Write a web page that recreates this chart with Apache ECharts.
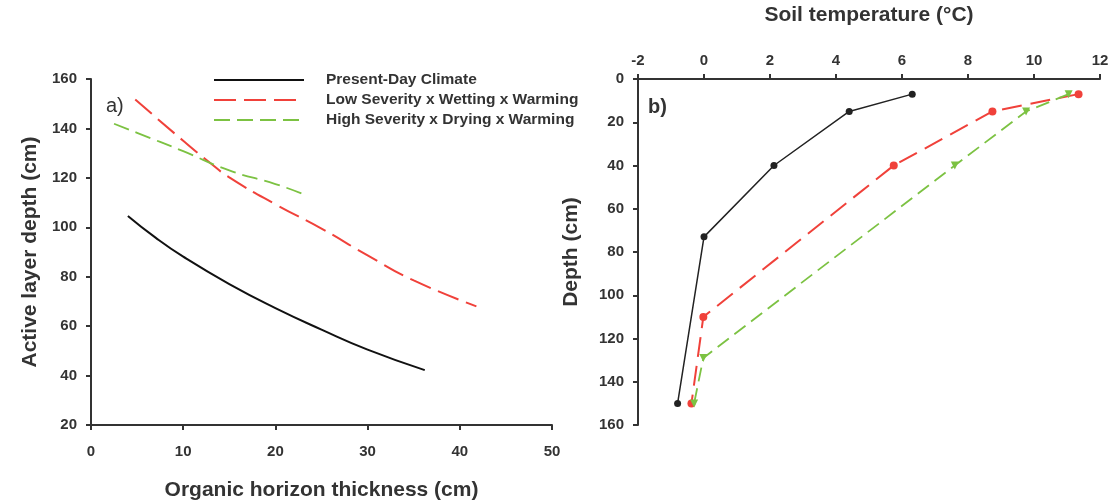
<!DOCTYPE html>
<html><head><meta charset="utf-8">
<script src="https://cdn.jsdelivr.net/npm/echarts@6/dist/echarts.min.js"></script>
<style>html,body{margin:0;padding:0;background:#fff}#c{width:1112px;height:501px}</style>
</head><body><div id="c"></div>
<script>
// Panel a) Active layer depth vs organic horizon thickness
const presentX = [4, 7, 10, 15, 20, 25, 30, 36.2];
const presentY = [104.6, 95.8, 88.1, 77, 67.3, 58.6, 50.5, 42.2];
const lowX = [4.8, 10, 12.8, 15, 20, 25, 30, 35, 41.8];
const lowY = [151.7, 135, 126.4, 120.2, 109.3, 99.5, 88.6, 78.5, 68];
const highX = [2.5, 5, 10, 15, 20, 22.9];
const highY = [141.9, 138.2, 130.8, 123, 117.5, 113.6];
// Panel b) Soil temperature profiles
const depthPresent = [7, 15, 40, 73, 150];
const tempPresent = [6.31, 4.4, 2.12, 0.0, -0.8];
const depthLow = [7, 15, 40, 110, 150];
const tempLow = [11.35, 8.74, 5.75, -0.02, -0.38];
const depthHigh = [7, 15, 40, 129, 150];
const tempHigh = [11.05, 9.76, 7.6, -0.02, -0.3];
const seriesNames = ['Present-Day Climate', 'Low Severity x Wetting x Warming', 'High Severity x Drying x Warming'];

const zip = (a, b) => a.map((v, i) => [v, b[i]]);
const FONT = 'Liberation Sans';
const axisCol = '#333';
const lbl = {color: '#333', fontFamily: FONT, fontWeight: 'bold', fontSize: 15};
const nameTs = {color: '#333', fontFamily: FONT, fontWeight: 'bold', fontSize: 21};
const axLine = {show: true, onZero: false, lineStyle: {color: axisCol, width: 2}};
const tick = {show: true, length: 5, lineStyle: {color: axisCol, width: 2}};

const chart = echarts.init(document.getElementById('c'));
chart.setOption({
  animation: false,
  backgroundColor: '#fff',
  grid: [
    {left: 91, top: 79, width: 461, height: 346, containLabel: false, outerBoundsMode: 'none'},
    {left: 638, top: 79, width: 462, height: 346, containLabel: false, outerBoundsMode: 'none'}
  ],
  xAxis: [
    {gridIndex: 0, type: 'value', min: 0, max: 50, interval: 10,
     name: 'Organic horizon thickness (cm)', nameLocation: 'middle', nameGap: 55, nameTextStyle: nameTs,
     axisLine: axLine, axisTick: tick, axisLabel: Object.assign({margin: 19}, lbl), splitLine: {show: false}},
    {gridIndex: 1, type: 'value', min: -2, max: 12, interval: 2, position: 'top',
     name: 'Soil temperature (°C)', nameLocation: 'middle', nameGap: 53, nameTextStyle: nameTs,
     axisLine: axLine, axisTick: tick, axisLabel: Object.assign({margin: 11}, lbl), splitLine: {show: false}}
  ],
  yAxis: [
    {gridIndex: 0, type: 'value', min: 20, max: 160, interval: 20,
     name: 'Active layer depth (cm)', nameLocation: 'middle', nameGap: 50, nameTextStyle: nameTs,
     axisLine: axLine, axisTick: tick, axisLabel: Object.assign({margin: 14}, lbl), splitLine: {show: false}},
    {gridIndex: 1, type: 'value', min: 0, max: 160, interval: 20, inverse: true,
     name: 'Depth (cm)', nameLocation: 'middle', nameGap: 56, nameTextStyle: nameTs,
     axisLine: axLine, axisTick: tick, axisLabel: Object.assign({margin: 14}, lbl), splitLine: {show: false}}
  ],
  legend: {
    data: seriesNames, orient: 'vertical', left: 213, top: 72, padding: 0,
    itemWidth: 90, itemHeight: 12, itemGap: 4,
    itemStyle: {opacity: 0},
    textStyle: {color: '#333', fontFamily: FONT, fontWeight: 'bold', fontSize: 15.5, padding: [0, 0, 0, 17]}
  },
  graphic: [
    {type: 'text', left: 106, top: 96, style: {text: 'a)', font: '20px "Liberation Sans"', fill: '#333'}},
    {type: 'text', left: 648, top: 97, style: {text: 'b)', font: 'bold 20px "Liberation Sans"', fill: '#333'}}
  ],
  series: [
    {name: seriesNames[0], type: 'line', xAxisIndex: 0, yAxisIndex: 0, data: zip(presentX, presentY),
     smooth: true, symbol: 'none', lineStyle: {color: '#111', width: 2}, itemStyle: {color: '#111'}},
    {name: seriesNames[1], type: 'line', xAxisIndex: 0, yAxisIndex: 0, data: zip(lowX, lowY),
     smooth: true, symbol: 'none', lineStyle: {color: '#f0413a', width: 2, type: [22, 8]}, itemStyle: {color: '#f0413a'}},
    {name: seriesNames[2], type: 'line', xAxisIndex: 0, yAxisIndex: 0, data: zip(highX, highY),
     smooth: true, symbol: 'none', lineStyle: {color: '#7cc242', width: 1.8, type: [16, 7]}, itemStyle: {color: '#7cc242'}},
    {name: 'b-present', type: 'line', xAxisIndex: 1, yAxisIndex: 1, data: zip(tempPresent, depthPresent),
     symbol: 'circle', symbolSize: 7, lineStyle: {color: '#222', width: 1.5}, itemStyle: {color: '#222'}},
    {name: 'b-low', type: 'line', xAxisIndex: 1, yAxisIndex: 1, data: zip(tempLow, depthLow),
     symbol: 'circle', symbolSize: 8, lineStyle: {color: '#f0413a', width: 2, type: [20, 9]}, itemStyle: {color: '#f0413a'}},
    {name: 'b-high', type: 'line', xAxisIndex: 1, yAxisIndex: 1, data: zip(tempHigh, depthHigh),
     symbol: 'triangle', symbolRotate: 180, symbolSize: 8, lineStyle: {color: '#7cc242', width: 1.8, type: [14, 7]}, itemStyle: {color: '#7cc242'}}
  ]
});
</script></body></html>
